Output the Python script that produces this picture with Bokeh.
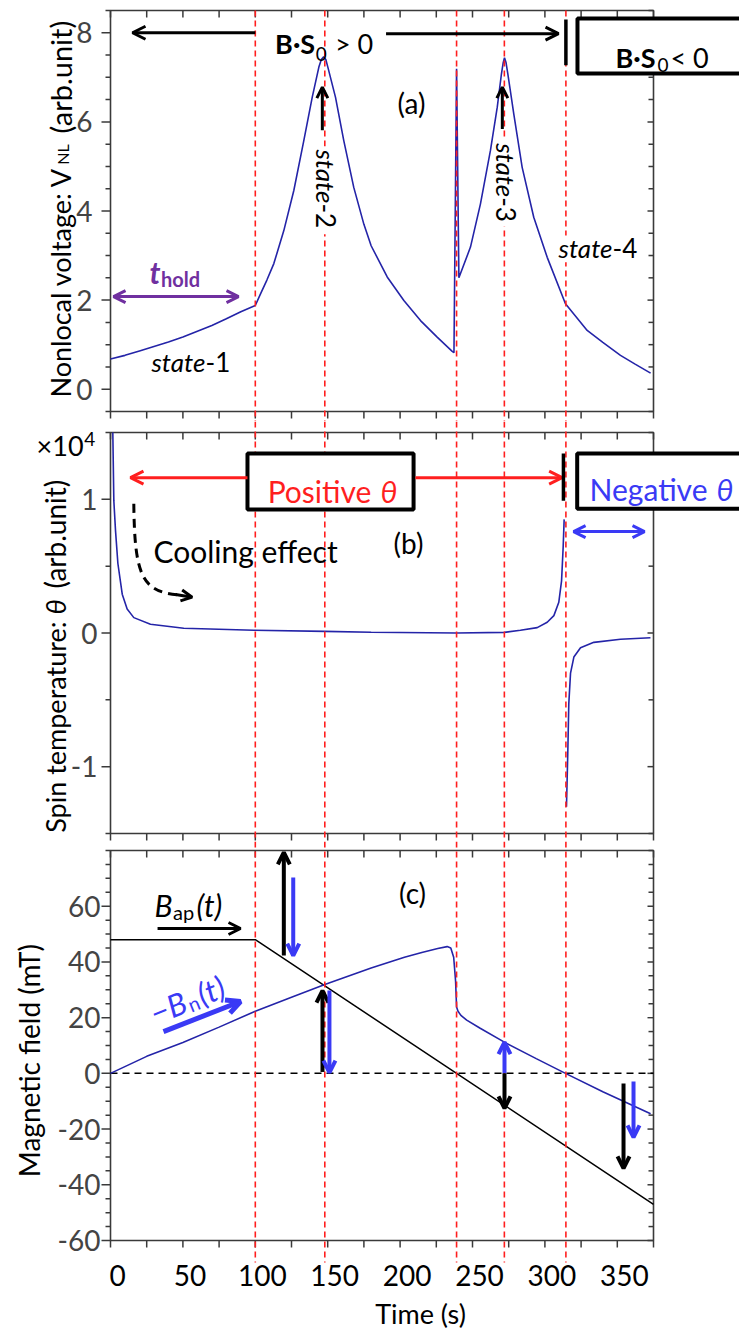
import math
from bokeh.plotting import figure
from bokeh.layouts import column
from bokeh.models import Range1d, Label, Arrow, OpenHead
from bokeh.embed import file_html
from bokeh.resources import INLINE

FONT = "Lato"
AX = "#3a3a3a"
CURVE = "#2424a8"
BLUE = "#3a3af5"
RED = "#ff1f1f"
PURPLE = "#7030a0"

# ---------------- data ----------------
x_major = [0, 50, 100, 150, 200, 250, 300, 350]
x_minor = [25, 75, 125, 175, 225, 275, 325, 375]
x_tick_labels = ["0", "50", "100", "150", "200", "250", "300", "350"]

ya_major = [0, 2, 4, 6, 8]
ya_labels = ["0", "2", "4", "6", "8"]
ya_minor = [-0.5, 0.5, 1, 1.5, 2.5, 3, 3.5, 4.5, 5, 5.5, 6.5, 7, 7.5, 8.5]
yb_major = [-1, 0, 1]
yb_labels = ["-1", "0", "1"]
yb_minor = [-1.5, -0.5, 0.5, 1.5]
yc_major = [-60, -40, -20, 0, 20, 40, 60]
yc_labels = ["-60", "-40", "-20", "0", "20", "40", "60"]
yc_minor = [-55, -50, -45, -35, -30, -25, -15, -10, -5, 5, 10, 15, 25, 30, 35,
            45, 50, 55, 65, 70, 75, 80]

# (a) nonlocal voltage
time_vnl = [0, 10, 20, 30, 40, 50, 60, 70, 80, 90, 100,
            103.6, 108, 112.8, 119.7, 126.6, 133.5, 139.3, 143.9, 145.6, 147.2,
            148.7, 150.1, 155.4, 161.1, 168.0, 175, 180, 191.1, 202.6, 214.1,
            225.6, 236, 237.2,
            239, 240.6, 248.6, 255.5, 262.4, 267.1, 270.0, 271.2, 272.1, 273.1,
            274.4, 278.5, 284.3, 292.3, 301.6, 314.2, 329.2, 340, 352.2, 362, 373]
vnl = [0.68, 0.76, 0.86, 0.96, 1.06, 1.17, 1.30, 1.43, 1.58, 1.74, 1.88,
       2.14, 2.45, 2.82, 3.56, 4.46, 5.58, 6.55, 7.23, 7.40, 7.46,
       7.40, 7.23, 6.55, 5.58, 4.53, 3.70, 3.22, 2.52, 1.99, 1.54,
       1.17, 0.85, 0.82,
       7.19, 2.50, 3.19, 4.16, 5.36, 6.33, 7.08, 7.33, 7.44, 7.34,
       7.08, 6.18, 4.98, 3.86, 2.96, 1.92, 1.32, 1.05, 0.76, 0.57, 0.36]

# (b) spin temperature (x1e4)
time_theta_pos = [1.6, 2.3, 3.5, 5.1, 8.1, 11.5, 16.1, 27.6, 50.6, 99,
                  148, 180, 239, 272, 283.1, 294.7, 301.6, 306.2, 309.6, 311.5,
                  312.6, 313.3]
theta_pos = [1.5, 0.99, 0.76, 0.52, 0.29, 0.18, 0.115, 0.066, 0.036,
             0.021, 0.012, 0.006, 0.0, 0.005, 0.02, 0.04, 0.08, 0.13, 0.23,
             0.39, 0.64, 0.85]
time_theta_neg = [314.9, 315.8, 316.5, 317.7, 320, 324.6, 333.8, 352.2, 372.9]
theta_neg = [-1.30, -0.90, -0.53, -0.30, -0.18, -0.11, -0.07, -0.047, -0.035]

# (c) magnetic fields
time_bap = [0, 100, 375]
b_ap = [48, 48, -47]
time_bn = [0, 25, 50, 75, 100, 125, 148, 180, 203, 215, 226, 232.5, 235, 237,
           238.3, 239, 240, 242, 246, 255, 272, 294, 314.2, 340, 373]
minus_bn = [0, 6.1, 11.1, 16.6, 22.3, 27.3, 31.9, 37.8, 41.7, 43.4, 44.8, 45.5,
            45.0, 41.7, 33.3, 23.8, 22.3, 20.8, 19.1, 16.3, 11.2, 5.3, 0, -6.6,
            -14.5]

marker_times = [100, 148, 239, 272, 314.5]

# ---------------- layout helpers ----------------
T_MIN, T_MAX = 0, 375
SX = 543 / (T_MAX - T_MIN)          # px per second
T0 = T_MIN - 110 / SX               # canvas left edge in data units
T1 = T0 + 739 / SX                  # canvas right edge


def make_panel(v0, v1, frame_h, top, bottom, ymaj, ymin, ylabels, ylab_px):
    sy = frame_h / (v1 - v0)
    H = top + frame_h + bottom
    ybot, ytop = v0 - bottom / sy, v1 + top / sy
    p = figure(frame_width=739, frame_height=H,
               x_range=Range1d(T0, T1), y_range=Range1d(ybot, ytop),
               output_backend="svg", toolbar_location=None,
               x_axis_location=None, y_axis_location=None,
               min_border_left=0, min_border_right=0, min_border_top=0,
               min_border_bottom=0)
    p.grid.visible = False
    p.outline_line_color = None
    p.background_fill_color = "white"
    p.border_fill_color = "white"
    # frame
    p.quad(left=[T_MIN], right=[T_MAX], bottom=[v0], top=[v1], fill_color=None,
           line_color=AX, line_width=1.6)
    xt = x_major + x_minor
    n = len(xt)
    seg = dict(line_color=AX, line_width=1.5)
    p.segment(x0=xt, y0=[v0] * n, x1=xt, y1=[v0 - 7 / sy] * n, **seg)
    p.segment(x0=xt, y0=[v1] * n, x1=xt, y1=[v1 - 7 / sy] * n, **seg)
    p.segment(x0=[T_MIN] * len(ymaj), y0=ymaj, x1=[T_MIN - 9 / SX] * len(ymaj), y1=ymaj, **seg)
    p.segment(x0=[T_MIN] * len(ymin), y0=ymin, x1=[T_MIN - 5 / SX] * len(ymin), y1=ymin, **seg)
    p.segment(x0=[T_MAX] * len(ymaj), y0=ymaj, x1=[T_MAX - 6 / SX] * len(ymaj), y1=ymaj, **seg)
    p.segment(x0=[T_MAX] * len(ymin), y0=ymin, x1=[T_MAX - 5 / SX] * len(ymin), y1=ymin, **seg)
    for v, s in zip(ymaj, ylabels):
        p.add_layout(Label(x=T_MIN - ylab_px / SX, y=v, text=s, text_font=FONT,
                           text_font_size="28px", text_align="right",
                           text_baseline="middle"))
    return p, sy, ybot, ytop


def red_lines(p, y0, y1):
    n = len(marker_times)
    p.segment(x0=marker_times, y0=[y0] * n, x1=marker_times, y1=[y1] * n,
              line_color=RED, line_dash="6 4", line_width=1.6)


def mask(p, t, v0, v1, halfw_px=6):
    p.quad(left=[t - halfw_px / SX], right=[t + halfw_px / SX], bottom=[v0], top=[v1],
           fill_color="white", line_color=None)


def box(p, x0, x1, y0, y1, lw=4):
    p.quad(left=[x0], right=[x1], bottom=[y0], top=[y1], fill_color="white",
           line_color="black", line_width=lw)


def lab(p, x, y, text, size=27, color="black", style="normal", align="left",
        baseline="middle", angle=0.0, xo=0):
    p.add_layout(Label(x=x, y=y, text=text, text_font=FONT, text_font_size=f"{size}px",
                       text_color=color, text_font_style=style, text_align=align,
                       text_baseline=baseline, angle=angle, x_offset=xo))


def arr(p, x0, y0, x1, y1, color="black", lw=3, size=12, both=False):
    def head():
        return OpenHead(size=size, line_color=color, line_width=lw)
    p.add_layout(Arrow(x_start=x0, y_start=y0, x_end=x1, y_end=y1,
                       start=head() if both else None, end=head(),
                       line_color=color, line_width=lw))


def bar(p, x, y0, y1, lw=3.5):
    p.add_layout(Arrow(x_start=x, y_start=y0, x_end=x, y_end=y1, start=None,
                       end=None, line_color="black", line_width=lw))


# ---------------- panel (a) ----------------
pa, sya, ya_bot, ya_top = make_panel(-0.5, 8.5, 401, 10, 10, ya_major, ya_minor, ya_labels, 18)
pa.line(time_vnl, vnl, line_color=CURVE, line_width=1.6)
red_lines(pa, 8.5, ya_bot)
mask(pa, 148, 3.48, 5.45)
mask(pa, 272, 3.65, 5.60)
mask(pa, 314.5, 2.85, 3.45, 5)
box(pa, 322.5, 460, 7.086, 8.32)

arr(pa, 100, 8.0, 15.2, 8.0, lw=3, size=13)
lab(pa, 141.3, 7.75, "B·S", 27, style="bold", align="right", baseline="alphabetic")
lab(pa, 141.8, 7.53, "0", 19, baseline="alphabetic")
lab(pa, 155.0, 7.75, "> 0", 27, baseline="alphabetic")
arr(pa, 190.3, 7.98, 309.4, 7.98, lw=3, size=13)
bar(pa, 314.5, 8.30, 7.27)
lab(pa, 376.4, 7.45, "B·S", 27, style="bold", align="right", baseline="alphabetic")
lab(pa, 377.8, 7.27, "0", 19, baseline="alphabetic")
lab(pa, 386.7, 7.45, "< 0", 27, baseline="alphabetic")
lab(pa, 207.9, 6.43, "(a)", 28, align="center")

arr(pa, 146.3, 5.81, 146.3, 6.78, lw=3, size=11)
arr(pa, 270.6, 5.84, 270.6, 6.78, lw=3, size=11)
lab(pa, 148.5, 4.17, "state", 26, style="italic", align="right", angle=-math.pi / 2)
lab(pa, 148.5, 4.17, "-2", 26, align="left", angle=-math.pi / 2)
lab(pa, 272.8, 4.31, "state", 26, style="italic", align="right", angle=-math.pi / 2)
lab(pa, 272.8, 4.31, "-3", 26, align="left", angle=-math.pi / 2)
lab(pa, 346.7, 3.16, "state", 26, style="italic", align="right")
lab(pa, 346.7, 3.16, "-4", 26, align="left")
lab(pa, 65.6, 0.60, "state", 26, style="italic", align="right")
lab(pa, 65.6, 0.60, "-1", 26, align="left")

arr(pa, 2.1, 2.08, 88.4, 2.08, color=PURPLE, lw=3, size=12, both=True)
lab(pa, 34.5, 2.63, "t", 30, color=PURPLE, style="bold italic", align="right", baseline="alphabetic")
lab(pa, 34.9, 2.48, "hold", 20, color=PURPLE, style="bold", baseline="alphabetic")

# y label (a)
lab(pa, -34.5, 4.98, "Nonlocal voltage: V", 27, align="right", baseline="alphabetic", angle=math.pi / 2)
lab(pa, -33.1, 5.04, "NL", 16, align="left", baseline="alphabetic", angle=math.pi / 2)
lab(pa, -34.5, 5.74, "(arb.unit)", 29, align="left", baseline="alphabetic", angle=math.pi / 2)

# ---------------- panel (b) ----------------
pb, syb, yb_bot, yb_top = make_panel(-1.5, 1.5, 401, 11, 8, yb_major, yb_minor, yb_labels, 13)
pb.line(time_theta_pos, theta_pos, line_color=CURVE, line_width=1.6)
pb.line(time_theta_neg, theta_neg, line_color=CURVE, line_width=1.6)
red_lines(pb, yb_top, yb_bot)
box(pb, 94.6, 209.3, 0.924, 1.343)
box(pb, 322.3, 460, 0.929, 1.343)

lab(pb, 180.2, 1.066, "Positive", 30, color=RED, align="right", baseline="alphabetic")
lab(pb, 186.5, 1.066, "θ", 30, color=RED, style="italic", baseline="alphabetic")
arr(pb, 94.6, 1.162, 13.8, 1.162, color=RED, lw=3, size=13)
arr(pb, 210.6, 1.162, 311.9, 1.162, color=RED, lw=3, size=13)
bar(pb, 312.8, 1.343, 0.99)
lab(pb, 412.3, 1.079, "Negative", 30, color=BLUE, align="right", baseline="alphabetic")
lab(pb, 418.5, 1.079, "θ", 30, color=BLUE, style="italic", baseline="alphabetic")
arr(pb, 319.8, 0.759, 368.8, 0.759, color=BLUE, lw=3, size=12, both=True)
lab(pb, 205.8, 0.67, "(b)", 28, align="center")
lab(pb, 29.7, 0.617, "Cooling effect", 30, baseline="alphabetic")
pb.bezier(x0=[16.1], y0=[0.967], x1=[47], y1=[0.285], cx0=[16.6], cy0=[0.42],
          cx1=[22], cy1=[0.31], line_color="black", line_width=3, line_dash="9 6")
arr(pb, 45, 0.288, 56.4, 0.268, lw=3, size=11)

lab(pb, -18.6, 1.403, "×10", 27, align="right", baseline="alphabetic")
lab(pb, -18.2, 1.453, "4", 19, baseline="alphabetic")

lab(pb, -38.0, 0.086, "Spin temperature:", 27, align="right", baseline="alphabetic", angle=math.pi / 2)
lab(pb, -38.0, 0.138, "θ", 27, style="italic", align="left", baseline="alphabetic", angle=math.pi / 2)
lab(pb, -38.0, 0.333, "(arb.unit)", 28, align="left", baseline="alphabetic", angle=math.pi / 2)

# ---------------- panel (c) ----------------
pc, syc, yc_bot, yc_top = make_panel(-60, 80, 390, 9, 94, yc_major, yc_minor, yc_labels, 10)
pc.segment(x0=[T_MIN], y0=[0], x1=[T_MAX], y1=[0], line_color="black",
           line_dash="7 5", line_width=1.5)
pc.line(time_bap, b_ap, line_color="black", line_width=1.5)
pc.line(time_bn, minus_bn, line_color=CURVE, line_width=1.6)
red_lines(pc, yc_top, -60 - 22 / syc)

lab(pc, 208.6, 64.9, "(c)", 28, align="center")
lab(pc, 42.8, 60.26, "B", 30, style="italic", align="right", baseline="alphabetic")
lab(pc, 43.2, 57.9, "ap", 20, baseline="alphabetic")
lab(pc, 59.4, 60.26, "(t)", 30, style="italic", baseline="alphabetic")
arr(pc, 32.5, 52, 89.8, 52, lw=3, size=12)

ang = math.radians(22)
bx, by = 28.0, 21.3


def along(d, q):
    dx = d * math.cos(ang) + q * math.sin(ang)
    dy = d * math.sin(ang) - q * math.cos(ang)
    return bx + dx / SX, by + dy / syc


for txt, size, st, d, q in [("−B", 31, "italic", 0, 0), ("n", 20, "normal", 38, 6),
                             ("(t)", 31, "italic", 51, 0)]:
    x, y = along(d, q)
    lab(pc, x, y, txt, size, color=BLUE, style=st, baseline="alphabetic", angle=ang)
arr(pc, 36.6, 15.0, 89.8, 25.8, color=BLUE, lw=5, size=14)

arr(pc, 119.7, 42.3, 119.7, 79.3, lw=4, size=12)
arr(pc, 126.2, 70.3, 126.2, 42.3, color=BLUE, lw=4, size=12)
arr(pc, 146.4, 0.5, 146.4, 29.7, lw=4, size=12)
arr(pc, 151.2, 29.7, 151.2, 0.3, color=BLUE, lw=4, size=12)
arr(pc, 272.1, 0, 272.1, 11.2, color=BLUE, lw=4, size=12)
arr(pc, 272.1, 0, 272.1, -12.6, lw=4, size=12)
arr(pc, 354.3, -3.6, 354.3, -34.1, lw=4, size=12)
arr(pc, 361.2, -2.9, 361.2, -23, color=BLUE, lw=4, size=12)

for t, s in zip(x_major, x_tick_labels):
    lab(pc, t, -72.5, s, 28, align="center", xo=7)
lab(pc, 214.1, -86.2, "Time (s)", 27, align="center")
lab(pc, -56.6, 4.6, "Magnetic field (mT)", 28, align="center", angle=math.pi / 2)

layout = column(pa, pb, pc)
open("out.html", "w").write(file_html(layout, INLINE))
